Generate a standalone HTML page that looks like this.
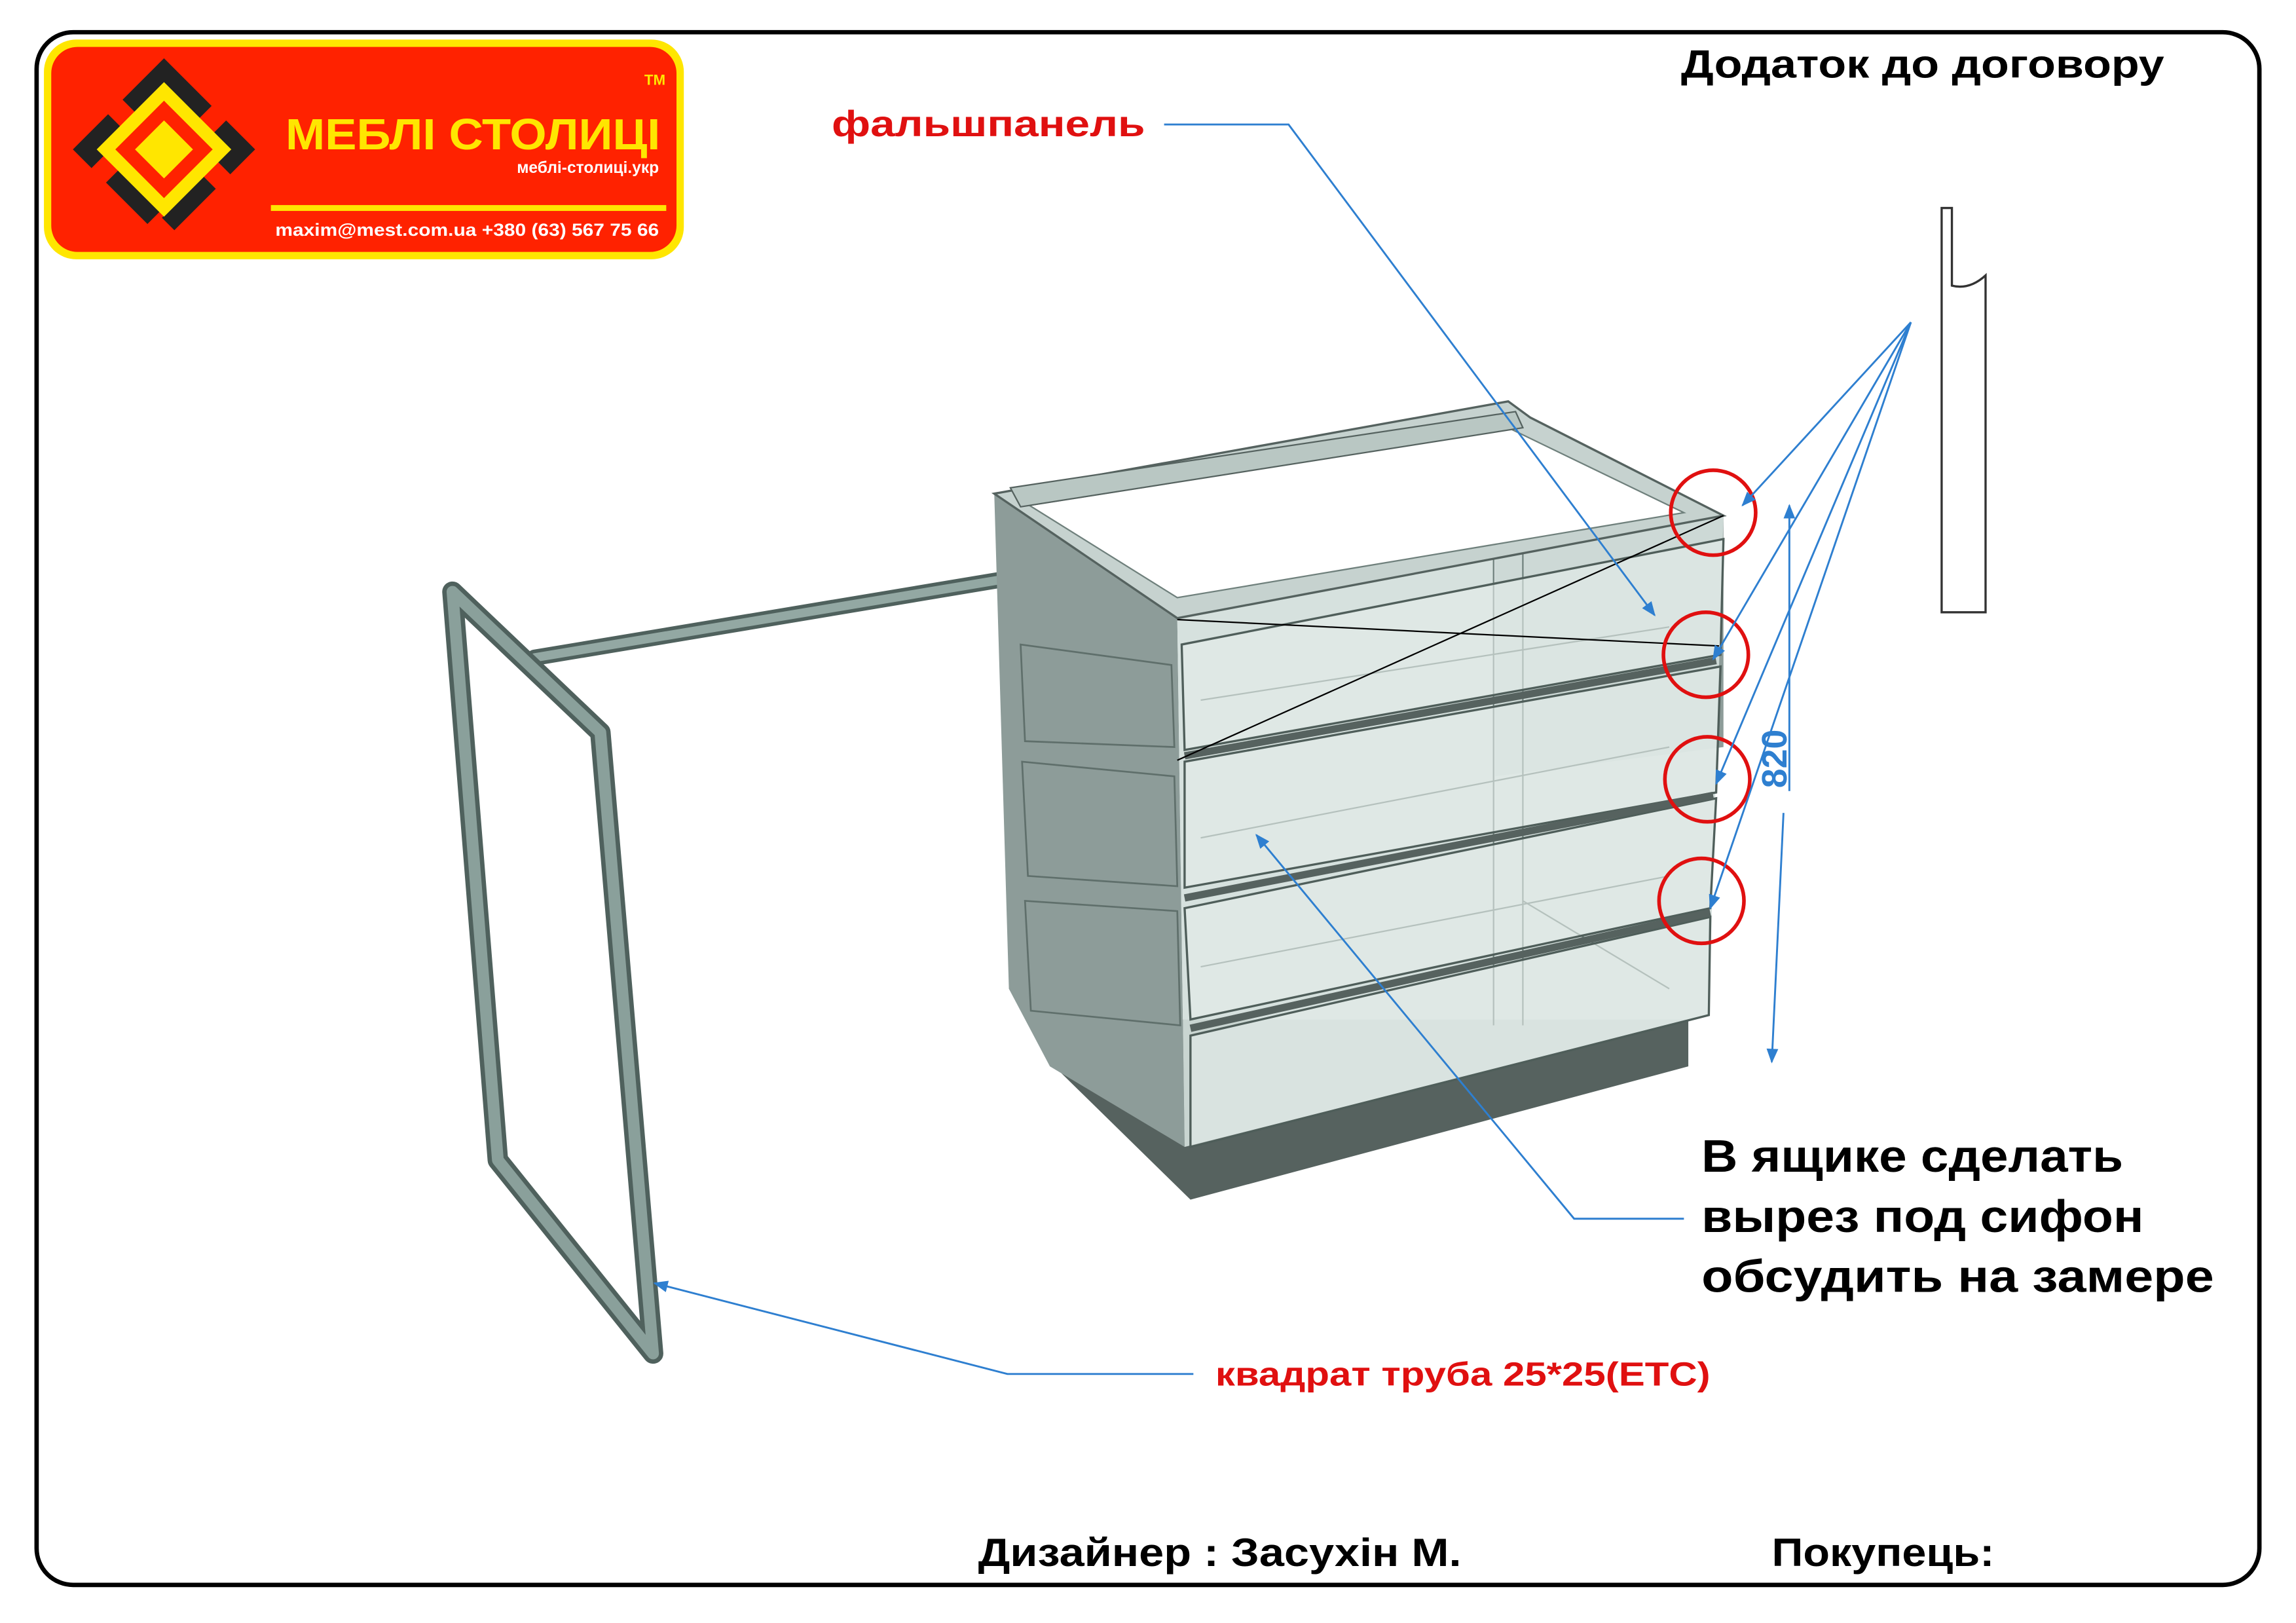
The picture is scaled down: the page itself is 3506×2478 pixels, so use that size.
<!DOCTYPE html>
<html><head><meta charset="utf-8"><style>
html,body{margin:0;padding:0;background:#fff;}
svg{display:block}
text{font-family:"Liberation Sans","DejaVu Sans",sans-serif;font-weight:bold}
</style></head><body>
<svg width="3506" height="2478" viewBox="0 0 1568 1108" preserveAspectRatio="none" xmlns="http://www.w3.org/2000/svg">
<defs>
<marker id="ar" markerWidth="10" markerHeight="10" refX="9" refY="5" orient="auto" markerUnits="userSpaceOnUse"><path d="M0,1 L10,5 L0,9 z" fill="#2e7fd0"/></marker>
</defs>
<rect width="1568" height="1108" fill="#fff"/>
<rect x="25" y="22" width="1518" height="1060" rx="25" fill="none" stroke="#000" stroke-width="3"/>
<!-- logo -->
<rect x="30" y="27" width="437" height="150" rx="22" fill="#ffe600"/>
<rect x="35" y="32" width="427" height="140" rx="18" fill="#ff2200"/>
<g transform="translate(112,102)">
<rect x="-38" y="-38" width="76" height="76" transform="rotate(45)" fill="none" stroke="#222" stroke-width="12" stroke-dasharray="40 14"/>
<rect x="-28" y="-28" width="56" height="56" transform="rotate(45)" fill="none" stroke="#ffe600" stroke-width="9"/>
<rect x="-14" y="-14" width="28" height="28" transform="rotate(45)" fill="#ffe600"/>
</g>
<text x="195" y="102" font-size="30" fill="#ffe600" textLength="256" lengthAdjust="spacingAndGlyphs">МЕБЛІ СТОЛИЦІ</text>
<text x="440" y="58" font-size="10" fill="#ffe600" font-weight="normal">TM</text>
<text x="450" y="118" font-size="11" fill="#fff" text-anchor="end">меблі-столиці.укр</text>
<rect x="185" y="140" width="270" height="4" fill="#ffe600"/>
<text x="188" y="161" font-size="12" fill="#fff" textLength="262" lengthAdjust="spacingAndGlyphs">maxim@mest.com.ua  +380 (63) 567 75 66</text>
<text x="1148" y="53" font-size="27" textLength="330" lengthAdjust="spacingAndGlyphs">Додаток до договору</text>
<!-- profile -->
<path d="M1326,142 L1333,142 L1333,195 Q1345,198 1356,188 L1356,418 L1326,418 Z" fill="#fff" stroke="#333" stroke-width="1.5"/>
<!-- leg frame -->
<g fill="none" stroke-linejoin="round" stroke-linecap="round">
<line x1="365" y1="449" x2="742" y2="386" stroke="#4f615d" stroke-width="11"/>
<line x1="365" y1="449" x2="742" y2="386" stroke="#93a8a3" stroke-width="6"/>
<polyline points="309,404 340,792 446,924 410,500 309,404" stroke="#4f615d" stroke-width="14"/>
<polyline points="309,404 340,792 446,924 410,500 309,404" stroke="#8aa09b" stroke-width="8"/>
</g>
<!-- cabinet -->
<polygon points="717,696 717,725 813,819 1153,728 1153,696" fill="#56625f"/>
<polygon points="1021,292 1045,286 1177,352 1177,510 1021,530" fill="#8d9c99"/>
<polygon points="679,337 804,422 809,783 717,728 689,675" fill="#8d9c99"/>
<g fill="none" stroke="#5f6f6b" stroke-width="1.2">
<polygon points="697,440 800,454 802,510 700,506"/>
<polygon points="698,520 802,530 804,605 702,598"/>
<polygon points="700,615 804,622 806,700 704,690"/>
</g>
<polygon points="804,422 1177,352 1167,693 809,783" fill="#d3dedb" opacity="0.92"/>
<g fill="none" stroke="#6f807c" stroke-width="1">
<line x1="1020" y1="300" x2="1020" y2="700"/>
<line x1="1040" y1="297" x2="1040" y2="700"/>
<line x1="820" y1="478" x2="1140" y2="428"/>
<line x1="820" y1="572" x2="1140" y2="510"/>
<line x1="820" y1="660" x2="1140" y2="598"/>
<line x1="1040" y1="615" x2="1140" y2="675"/>
</g>
<!-- top -->
<polygon points="679,337 1030,274 1045,285 1177,352 804,422" fill="#c6d2cf" stroke="#55625f" stroke-width="1.5"/>
<polygon points="703,345 1032,293 1150,350 804,408" fill="#fff" stroke="#6f807c" stroke-width="1"/>
<polygon points="690,333 1035,281 1040,292 697,346" fill="#b9c7c3" stroke="#55625f" stroke-width="1"/>
<!-- drawer fronts -->
<g stroke="#4f5e5a" stroke-width="1.5" fill="#e4ecea" fill-opacity="0.6">
<polygon points="807,440 1177,368 1175,447 809,512"/>
<polygon points="809,520 1175,455 1172,541 809,606"/>
<polygon points="809,620 1172,545 1168,620 813,696"/>
<polygon points="813,707 1168,626 1167,693 813,783"/>
</g>
<g stroke="#56625f" stroke-width="5">
<line x1="809" y1="516" x2="1172" y2="451"/>
<line x1="809" y1="613" x2="1170" y2="543"/>
<line x1="813" y1="702" x2="1168" y2="623"/>
</g>
<g stroke="#000" stroke-width="1">
<line x1="804" y1="423" x2="1174" y2="441"/>
<line x1="804" y1="519" x2="1177" y2="352"/>
</g>
<!-- red circles -->
<g fill="none" stroke="#e01010" stroke-width="2.5">
<circle cx="1170" cy="350" r="29"/><circle cx="1165" cy="447" r="29"/>
<circle cx="1166" cy="532" r="29"/><circle cx="1162" cy="615" r="29"/>
</g>
<g stroke="#2e7fd0" stroke-width="1.3" fill="none">
<line x1="1305" y1="220" x2="1190" y2="345" marker-end="url(#ar)"/>
<line x1="1305" y1="220" x2="1170" y2="450" marker-end="url(#ar)"/>
<line x1="1305" y1="220" x2="1172" y2="535" marker-end="url(#ar)"/>
<line x1="1305" y1="220" x2="1168" y2="620" marker-end="url(#ar)"/>
<line x1="1222" y1="540" x2="1222" y2="345" marker-end="url(#ar)"/>
<line x1="1218" y1="555" x2="1210" y2="725" marker-end="url(#ar)"/>
<polyline points="795,85 880,85 1130,420" marker-end="url(#ar)"/>
<polyline points="1150,832 1075,832 858,570" marker-end="url(#ar)"/>
<polyline points="815,938 688,938 447,876" marker-end="url(#ar)"/>
</g>
<text transform="translate(1220,538) rotate(-90)" font-size="24" fill="#2e7fd0">820</text>
<text x="568" y="93" font-size="25" fill="#e01010" textLength="214" lengthAdjust="spacingAndGlyphs">фальшпанель</text>
<text x="830" y="946" font-size="23" fill="#e01010" textLength="338" lengthAdjust="spacingAndGlyphs">квадрат труба 25*25(ЕТС)</text>
<text x="1162" y="800" font-size="31" textLength="288" lengthAdjust="spacingAndGlyphs">В ящике сделать</text>
<text x="1162" y="841" font-size="31" textLength="302" lengthAdjust="spacingAndGlyphs">вырез под сифон</text>
<text x="1162" y="882" font-size="31" textLength="350" lengthAdjust="spacingAndGlyphs">обсудить на замере</text>
<text x="668" y="1069" font-size="27" textLength="330" lengthAdjust="spacingAndGlyphs">Дизайнер : Засухін М.</text>
<text x="1210" y="1069" font-size="27" textLength="152" lengthAdjust="spacingAndGlyphs">Покупець:</text>
</svg>
</body></html>
